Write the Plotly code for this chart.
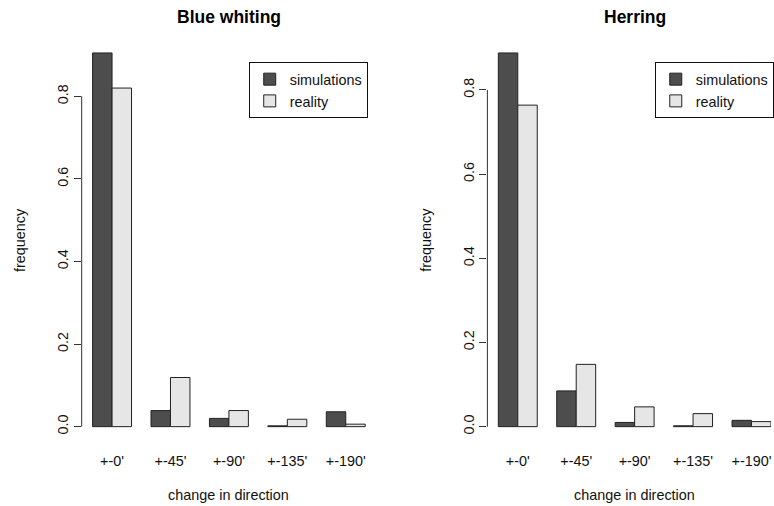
import plotly.graph_objects as go

categories = ["+-0'", "+-45'", "+-90'", "+-135'", "+-190'"]
blue_sim = [0.905, 0.039, 0.020, 0.002, 0.036]
blue_real = [0.820, 0.119, 0.039, 0.018, 0.006]
herring_sim = [0.888, 0.085, 0.010, 0.002, 0.015]
herring_real = [0.764, 0.148, 0.047, 0.031, 0.012]
ytick_vals = [0.0, 0.2, 0.4, 0.6, 0.8]
ytick_text = ["0.0", "0.2", "0.4", "0.6", "0.8"]
series_names = ["simulations", "reality"]
titles = ["Blue whiting", "Herring"]

W, H = 774, 506
FONT = "Liberation Sans, Arial, sans-serif"
DARK, LIGHT = "#4D4D4D", "#E6E6E6"
FS = 14.4

# plot regions in pixels
left_px = (82.0, 377.6)
right_px = (489.3, 784.9)  # extends beyond the visible image (cropped)
top_px, bot_px = 38.0, 441.6

fig = go.Figure()

panels = [
    (blue_sim, blue_real, "x", "y", "legend", left_px),
    (herring_sim, herring_real, "x2", "y2", "legend2", right_px),
]

for sim, real, xa, ya, lg, _ in panels:
    for name, vals, col in [(series_names[0], sim, DARK), (series_names[1], real, LIGHT)]:
        fig.add_trace(go.Bar(
            x=categories, y=vals, name=name, xaxis=xa, yaxis=ya, legend=lg,
            marker=dict(color=col, line=dict(color="#222222", width=1)),
            offsetgroup=name,
        ))

ydom = [1 - bot_px / H, 1 - top_px / H]
full_range = 5.04  # R xlim [0.44, 15.56] in category units
x0 = -0.52

def yrange(a, b):
    m = max(max(a), max(b))
    return [-0.04 * m, 1.04 * m]

vis_frac = (W - right_px[0]) / (right_px[1] - right_px[0])

axis_common = dict(showgrid=False, zeroline=False)
fig.update_layout(
    width=W, height=H,
    margin=dict(l=0, r=0, t=0, b=0),
    paper_bgcolor="white", plot_bgcolor="white",
    font=dict(family=FONT, size=FS, color="#111111"),
    barmode="group", bargap=1/3, bargroupgap=0,
    xaxis=dict(domain=[left_px[0] / W, left_px[1] / W], range=[x0, x0 + full_range],
               showline=False, ticks="", tickfont=dict(size=FS), ticklabelstandoff=9,
               anchor="y", **axis_common),
    xaxis2=dict(domain=[right_px[0] / W, 1.0], range=[x0, x0 + full_range * vis_frac],
                showline=False, ticks="", tickfont=dict(size=FS), ticklabelstandoff=9,
                anchor="y2", **axis_common),
    yaxis=dict(domain=ydom, range=yrange(blue_sim, blue_real), tickvals=ytick_vals,
               ticktext=ytick_text, tickangle=-90, ticks="outside", ticklen=7,
               tickcolor="#333333", showline=False, anchor="x", tickfont=dict(size=FS),
               **axis_common),
    yaxis2=dict(domain=ydom, range=yrange(herring_sim, herring_real), tickvals=ytick_vals,
                ticktext=ytick_text, tickangle=-90, ticks="outside", ticklen=7,
                tickcolor="#333333", showline=False, anchor="x2", tickfont=dict(size=FS),
                **axis_common),
    legend=dict(x=249.7 / W, y=1 - 62.3 / H, xanchor="left", yanchor="top",
                bordercolor="#111111", borderwidth=1, bgcolor="white",
                font=dict(size=FS), tracegroupgap=0),
    legend2=dict(x=657.3 / W, y=1 - 62.3 / H, xanchor="left", yanchor="top",
                 bordercolor="#111111", borderwidth=1, bgcolor="white",
                 font=dict(size=FS), tracegroupgap=0),
    showlegend=True,
)

# y-axis lines spanning first to last tick, as in R
for xr, yr in [("x domain", "y"), ("x2 domain", "y2")]:
    fig.add_shape(type="line", xref=xr, yref=yr, x0=0, x1=0,
                  y0=ytick_vals[0], y1=ytick_vals[-1],
                  line=dict(color="#333333", width=1))

annotations = []
for (_, _, _, _, _, px), title in zip(panels, titles):
    cx = (px[0] + px[1]) / 2
    annotations.append(dict(text="<b>" + title + "</b>", x=cx / W, y=1 - 17 / H,
                            xref="paper", yref="paper", showarrow=False,
                            font=dict(size=17.5, color="#000000"), xanchor="center", yanchor="middle"))
    annotations.append(dict(text="change in direction", x=cx / W, y=1 - 495 / H,
                            xref="paper", yref="paper", showarrow=False,
                            font=dict(size=FS), xanchor="center", yanchor="middle"))
    annotations.append(dict(text="frequency", x=(px[0] - 61.7) / W, y=(ydom[0] + ydom[1]) / 2,
                            xref="paper", yref="paper", showarrow=False, textangle=-90,
                            font=dict(size=FS), xanchor="center", yanchor="middle"))
fig.update_layout(annotations=annotations)

fig.write_html("out.html")
